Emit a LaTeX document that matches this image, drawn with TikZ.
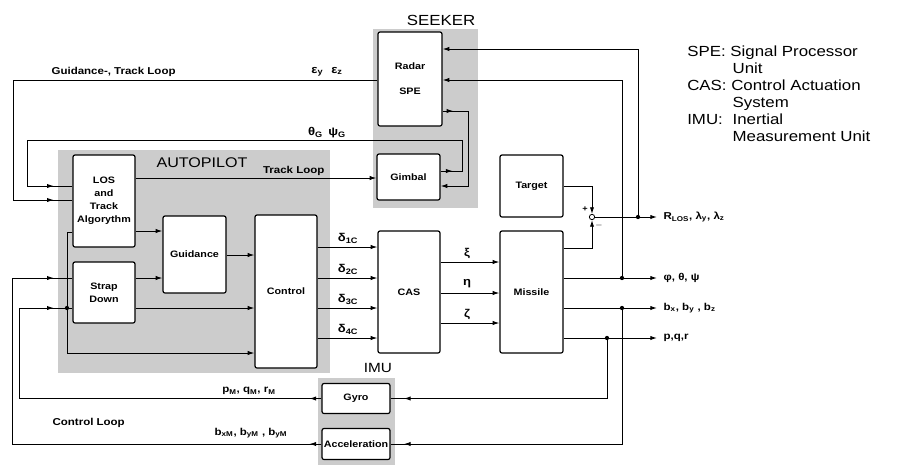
\documentclass[tikz,border=0pt]{standalone}
\usepackage{fontspec}
\setmainfont{Liberation Sans}[FakeStretch=1.15]
\usetikzlibrary{positioning,arrows.meta,calc,decorations.markings}

\begin{document}
\begin{tikzpicture}[
    x=0.75pt, y=-0.75pt,
    blockBox/.style={draw, line width=0.9pt, fill=white, rounded corners=1.5pt, font=\fontsize{7}{9.8}\selectfont\bfseries, align=center, inner sep=0pt},
    shadeArea/.style={fill=black!20},
    sig/.style={line width=0.7pt},
    arrowStyle/.style={sig, -{Latex[length=5pt,width=3.2pt]}},
    tipAt/.style={postaction={decorate, decoration={markings, mark=at position #1 with {\arrow{Latex[length=5pt,width=3.2pt]}}}}},
    sigLabel/.style={font=\fontsize{7.5}{9}\selectfont\bfseries, inner sep=1pt},
    greekLabel/.style={font=\fontsize{8.5}{10}\selectfont\bfseries, inner sep=1pt},
    outLabel/.style={font=\fontsize{7.5}{9}\selectfont\bfseries, anchor=west, inner sep=0pt, outer sep=5pt},
    titleLabel/.style={font=\fontsize{11}{13}\selectfont, inner sep=0pt},
    dot/.style={circle, fill, inner sep=0pt, minimum size=3.2pt},
    sumCircle/.style={circle, draw, line width=0.6pt, fill=white, inner sep=0pt, minimum size=4pt}
]
    \useasboundingbox (0,0) rectangle (897,465);

    % Aree ombreggiate
    \fill[shadeArea] (373,29) rectangle (478,208);
    \fill[shadeArea] (58,150) rectangle (330,373);
    \fill[shadeArea] (318,378) rectangle (395,465);

    \node[titleLabel] (seekerTitle) at (441,20) {SEEKER};
    \node[titleLabel, font=\fontsize{10.5}{12}\selectfont] (autoTitle) at (202,163) {AUTOPILOT};
    \node[titleLabel, font=\fontsize{10}{12}\selectfont] (imuTitle) at (378,368) {IMU};

    % Blocchi
    \node[blockBox, minimum width=48pt, minimum height=70.5pt] (radar) at (410,79) {Radar\\[9pt]SPE};
    \node[blockBox, minimum width=47.25pt, minimum height=34.5pt] (gimbal) at (408.5,177) {Gimbal};
    \node[blockBox, minimum width=46.5pt, minimum height=69pt] (los) at (104,201) {LOS\\and\\Track\\Algorythm};
    \node[blockBox, minimum width=46.5pt, minimum height=45.75pt] (strap) at (104,292.5) {Strap\\Down};
    \node[blockBox, minimum width=47.25pt, minimum height=57.75pt] (guid) at (194.5,254.5) {Guidance};
    \node[blockBox, minimum width=46.5pt, minimum height=114.75pt] (ctrl) at (286,291.5) {Control};
    \node[blockBox, minimum width=46.5pt, minimum height=91.5pt] (cas) at (409,292) {CAS};
    \node[blockBox, minimum width=47.25pt, minimum height=91.5pt] (missile) at (531.5,292) {Missile};
    \node[blockBox, minimum width=47.25pt, minimum height=46.5pt] (target) at (531.5,186) {Target};
    \node[blockBox, minimum width=51pt, minimum height=22.5pt] (gyro) at (356,398.5) {Gyro};
    \node[blockBox, minimum width=51pt, minimum height=23.25pt] (accel) at (356,444) {Acceleration};

    % Anelli del seeker
    \draw[sig, tipAt=-14pt] (radar.west |- 0,80) -- (13,80) |- (los.west |- 0,200);
    \node[sigLabel, anchor=west] (gtLabel) at (50,72) {Guidance-, Track Loop};
    \node[greekLabel] (epsLabel) at (327,72) {ε\textsubscript{y}\hspace{6pt}ε\textsubscript{z}};

    \draw[sig, tipAt=9pt, tipAt=-14pt] (gimbal.east |- 0,171) -- (462,171) |- (27,140) |- (los.west |- 0,186);
    \node[greekLabel] (thetaLabel) at (327,133) {θ\textsubscript{G}\hspace{4pt}ψ\textsubscript{G}};

    \draw[arrowStyle] (los.east |- 0,178) -- (gimbal.west |- 0,178);
    \node[sigLabel, anchor=east] (trackLabel) at (326,171) {Track Loop};

    \draw[arrowStyle, tipAt=8pt] (radar.east |- 0,111) -- (468,111) |- (gimbal.east |- 0,186);

    % Autopilota
    \draw[arrowStyle] (los.west |- 0,232) -| (67,353) -- (ctrl.west |- 0,353);
    \draw[arrowStyle] (los.east |- 0,231) -- (guid.west |- 0,231);
    \draw[arrowStyle] (strap.east |- 0,278) -- (guid.west |- 0,278);
    \draw[arrowStyle] (strap.east |- 0,308) -- (ctrl.west |- 0,308);
    \draw[arrowStyle] (guid.east |- 0,255) -- (ctrl.west |- 0,255);

    % Comandi
    \foreach \yy/\idx in {247/1, 278/2, 308/3, 338/4} {
        \draw[arrowStyle] (ctrl.east |- 0,\yy) -- (cas.west |- 0,\yy);
        \node[greekLabel] (delta\idx) at (348,\yy-9) {δ\textsubscript{\idx C}};
    }
    \foreach \yy/\sym/\nm in {262/ξ/xi, 293/η/eta, 323/ζ/zeta} {
        \draw[arrowStyle] (cas.east |- 0,\yy) -- (missile.west |- 0,\yy);
        \node[greekLabel] (\nm) at (467,\yy-9) {\sym};
    }

    % Uscite del missile
    \node[sumCircle] (sumNode) at (592,217) {};
    \draw[arrowStyle] (target.east) -| (sumNode.north);
    \draw[arrowStyle] (missile.east |- 0,248) -| (sumNode.south);
    \node[font=\fontsize{6}{6}\selectfont\bfseries, inner sep=0pt] (plusTop) at (585,209) {+};
    \node[font=\fontsize{6}{6}\selectfont\bfseries, inner sep=0pt] (minusBot) at (599,225) {$-$};

    \node[outLabel] (rlosLabel) at (657,217) {R\textsubscript{LOS}, λ\textsubscript{y}, λ\textsubscript{z}};
    \node[outLabel] (attLabel) at (657,278) {φ, θ, ψ};
    \node[outLabel] (accLabel) at (657,308) {b\textsubscript{x}, b\textsubscript{y} , b\textsubscript{z}};
    \node[outLabel] (pqrLabel) at (657,338) {p,q,r};

    \draw[arrowStyle] (sumNode.east) -- (rlosLabel.west);
    \node[dot] (rlosDot) at (638,217) {};
    \draw[arrowStyle] (rlosDot) |- (radar.east |- 0,49);

    \draw[arrowStyle] (missile.east |- 0,278) -- (attLabel.west);
    \node[dot] (attDot) at (622,278) {};
    \draw[arrowStyle] (attDot) |- (radar.east |- 0,80);

    \draw[arrowStyle] (missile.east |- 0,308) -- (accLabel.west);
    \node[dot] (accDot) at (622,308) {};
    \draw[sig, tipAt=-10pt] (accDot) |- (accel.east);

    \draw[arrowStyle] (missile.east |- 0,338) -- (pqrLabel.west);
    \node[dot] (pqrDot) at (607,338) {};
    \draw[sig, tipAt=-10pt] (pqrDot) |- (gyro.east);

    % Anello di controllo
    \draw[sig, tipAt=9pt, tipAt=-14pt] (gyro.west) -- (19,398.5) |- (strap.west |- 0,308);
    \node[dot] (gyroDot) at (67,308) {};
    \draw[sig, tipAt=9pt, tipAt=-14pt] (accel.west) -- (12,444) |- (strap.west |- 0,278);
    \node[sigLabel] (pqrMLabel) at (249,391) {p\textsubscript{M}, q\textsubscript{M}, r\textsubscript{M}};
    \node[sigLabel] (bMLabel) at (251,433) {b\textsubscript{xM}, b\textsubscript{yM} , b\textsubscript{yM}};
    \node[sigLabel, anchor=west] (ctrlLoopLabel) at (51,423) {Control Loop};

    % Legenda
    \node[font=\fontsize{11}{12.75}\selectfont, align=left, anchor=north west, inner sep=0pt] (legend) at (687,46) {
        SPE: Signal Processor\\
        \hspace*{34pt}Unit\\
        CAS: Control Actuation\\
        \hspace*{34pt}System\\
        \makebox[34pt][l]{IMU:}Inertial\\
        \hspace*{34pt}Measurement Unit
    };
\end{tikzpicture}
\end{document}
